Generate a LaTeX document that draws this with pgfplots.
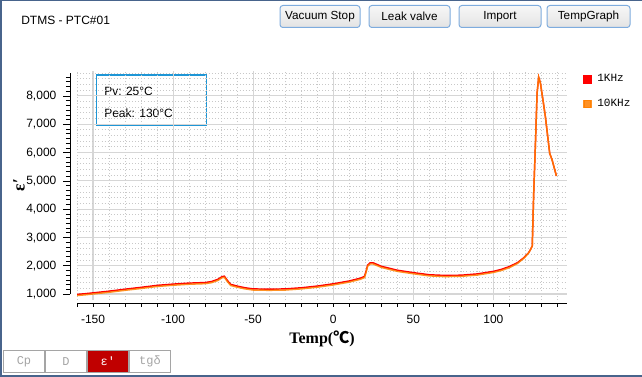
\documentclass[border=0pt]{standalone}
\usepackage{pgfplots}
\pgfplotsset{compat=1.18}
\usepackage{pgfplotstable}
\usepackage{fontspec}
\setmainfont{Liberation Sans}
\newfontfamily\serifb{Liberation Serif}
\newfontfamily\monof{Liberation Mono}
\newfontfamily\cjk{Noto Sans CJK SC}
\definecolor{frameblue}{RGB}{72,100,140}
\definecolor{btnborder}{RGB}{126,172,222}
\definecolor{boxblue}{RGB}{30,150,214}
\definecolor{majgrid}{RGB}{214,214,214}
\definecolor{mingrid}{RGB}{200,200,200}
\definecolor{c1k}{RGB}{255,0,0}
\definecolor{c10k}{RGB}{255,128,0}
\definecolor{tabred}{RGB}{192,0,0}
\definecolor{tabgray}{RGB}{165,165,165}

\pgfplotstableread{
T a b
-160 985 945
-155 1010 970
-150 1040 1000
-140 1100 1060
-130 1170 1130
-120 1235 1195
-110 1305 1265
-100 1350 1310
-90 1385 1345
-80 1405 1365
-76 1440 1400
-72 1520 1480
-69.5 1610 1570
-68 1630 1590
-66 1470 1430
-64 1340 1300
-60 1280 1240
-55 1220 1180
-50 1180 1140
-40 1170 1130
-30 1180 1140
-20 1220 1180
-10 1280 1240
0 1360 1320
10 1460 1420
17 1560 1520
19.5 1620 1580
20.5 1800 1760
21.5 2020 1980
23 2100 2060
25 2100 2060
30 1980 1940
40 1840 1800
50 1755 1715
60 1680 1640
70 1655 1615
80 1665 1625
90 1710 1670
100 1800 1760
105 1870 1830
110 1970 1930
115 2105 2075
119 2280 2260
122 2455 2445
123.5 2600 2600
124.3 2700 2700
125.2 4560 4560
126.3 6325 6325
127.3 8090 8090
128.3 8660 8660
129.4 8450 8450
131 7850 7850
132.5 7265 7265
135.2 5970 5970
136.7 5735 5735
139.4 5170 5170
}\datatable

\begin{document}
\begin{tikzpicture}
\begin{scope}[x=0.75pt,y=-0.75pt]
  \useasboundingbox (0,0) rectangle (642,377);
  \fill[white] (0,0) rectangle (642,377);
  % window frame
  \draw[frameblue, line width=1.5pt] (0.5,377) -- (0.5,0.5) -- (642,0.5);
  \draw[frameblue, line width=1.5pt] (0,376) -- (642,376);
  % title
  \node[anchor=west, font=\fontsize{9}{10}\selectfont, inner sep=0pt] at (21,20) {DTMS - PTC\#01};
  % buttons
  \foreach \xa/\xb/\lab in {280/360/Vacuum Stop, 369/450/Leak valve, 459/541/Import, 547/630/TempGraph}{
    \shade[top color=white!97!black, bottom color=white!89!black, rounded corners=2.2pt] (\xa,5.5) rectangle (\xb,27.5);
    \draw[btnborder, line width=0.75pt, rounded corners=2.2pt] (\xa,5.5) rectangle (\xb,27.5);
    \node[font=\fontsize{8.8}{10}\selectfont, inner sep=0pt] at ({(\xa+\xb)/2},16.5) {\lab};
  }
  % info box
  \draw[boxblue, line width=0.8pt] (96.5,75) rectangle (206.5,125.3);
  \node[anchor=base west, font=\fontsize{9}{10}\selectfont, inner sep=0pt] at (104,96) {Pv: 25°C};
  \node[anchor=base west, font=\fontsize{9}{10}\selectfont, inner sep=0pt] at (104,118) {Peak: 130°C};
  % axis titles
  \node[font=\serifb\bfseries\fontsize{12}{13}\selectfont, inner sep=0pt] at (322,339) {Temp({\cjk\bfseries ℃})};
  \node[rotate=90, font=\serifb\bfseries\fontsize{13}{14}\selectfont, inner sep=0pt] at (19,185) {ε′};
  % bottom tabs
  \foreach \xa/\xb/\lab in {3.5/44.5/Cp, 45.5/86.5/D, 129.5/170.5/tgδ}{
    \draw[tabgray, line width=0.75pt] (\xa,351) rectangle (\xb,372);
    \node[tabgray, font=\monof\fontsize{9}{10}\selectfont, inner sep=0pt] at ({(\xa+\xb)/2},361.5) {\lab};
  }
  \fill[tabred] (87,351) rectangle (128.5,372);
  \draw[tabgray, line width=0.75pt] (87,351) rectangle (128.5,372);
  \node[white, font=\monof\fontsize{9}{10}\selectfont, inner sep=0pt] at (107.75,361.5) {ε′};
\end{scope}

% ---------- main plot area: grid + data ----------
\begin{axis}[
  at={(57.75pt,-225pt)}, anchor=south west,
  scale only axis, width=367.5pt, height=171.75pt,
  xmin=-160, xmax=146, ymin=788, ymax=8880,
  axis line style={draw=none},
  xtick={-150,-100,...,100},
  minor xtick={-160,-150,...,140},
  ytick={1000,2000,...,8000},
  minor ytick={1000,1200,...,8800},
  xticklabels={}, yticklabels={},
  major tick length=0pt, minor tick length=0pt,
  grid=both,
  major grid style={draw=majgrid, line width=0.85pt},
  minor grid style={draw=mingrid, line width=0.7pt, dash pattern=on 0.7pt off 1.6pt},
  legend style={draw=none, fill=none, at={(1,1)}, anchor=north west,
    xshift=12pt, yshift=-1.5pt, inner sep=0pt, row sep=9.5pt,
    font=\monof\fontsize{8.3}{9}\selectfont,
    nodes={inner sep=1pt, anchor=west}},
  legend cell align=left,
  legend image code/.code={\fill[#1] (0pt,-2.7pt) rectangle (5.4pt,2.7pt);},
]
\addplot[c1k, line width=1.1pt, no markers] table[x=T, y=a] {\datatable};
\addlegendentry{\hspace{3pt}1KHz}
\addplot[c10k, line width=1.1pt, no markers, opacity=0.85] table[x=T, y=b] {\datatable};
\addlegendentry{\hspace{3pt}10KHz}
\end{axis}

% ---------- y axis (offset) ----------
\begin{axis}[
  at={(52.5pt,-220.7pt)}, anchor=south west,
  scale only axis, width=2pt, height=166.2pt,
  xmin=0, xmax=1, ymin=1000, ymax=8830,
  axis y line*=left, axis x line=none,
  axis line style={line width=0.75pt, black},
  ytick={1000,2000,...,8000},
  minor ytick={1000,1166.667,...,8840},
  tick align=outside,
  major tick length=5.2pt, minor tick length=3pt,
  tick style={line width=0.75pt, black},
  yticklabel style={font=\fontsize{9}{10}\selectfont, xshift=-1.5pt},
  /pgf/number format/.cd, 1000 sep={,}, assume math mode=true,
]
\end{axis}

% ---------- x axis (offset) ----------
\begin{axis}[
  at={(57.75pt,-227.5pt)}, anchor=south west,
  scale only axis, width=367.5pt, height=2pt,
  xmin=-160, xmax=146, ymin=0, ymax=1,
  axis x line*=bottom, axis y line=none,
  axis line style={line width=0.75pt, black},
  xtick={-160,-150,...,140},
  xticklabels={,-150,,,,,-100,,,,,-50,,,,,0,,,,,50,,,,,100,,,,},
  tick align=outside,
  major tick length=2.6pt,
  tick style={line width=0.75pt, black},
  xticklabel style={font=\fontsize{9}{10}\selectfont, yshift=-3pt},
]
\end{axis}
\end{tikzpicture}
\end{document}
